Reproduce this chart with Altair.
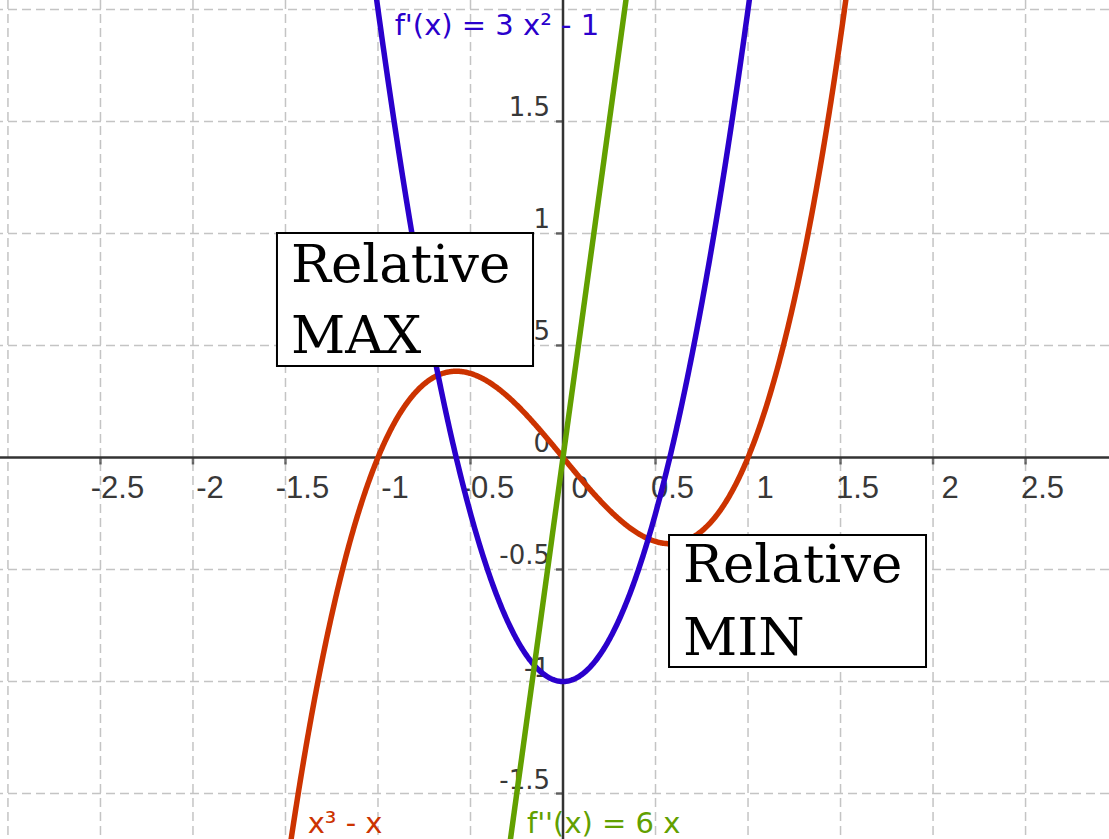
import altair as alt
import numpy as np
import pandas as pd

# f(x) = x^3 - x and its first two derivatives, as polynomial coefficients
f_coeffs = [1, 0, -1, 0]
fp_coeffs = [3, 0, -1]
fpp_coeffs = [6, 0]

curve_names = ["f", "fp", "fpp"]
curve_colors = ["#cc3300", "#2a00cc", "#62a000"]

# axis ticks and their labels
x_ticks = [-2.5, -2, -1.5, -1, -0.5, 0, 0.5, 1, 1.5, 2, 2.5]
x_tick_labels = ["-2.5", "-2", "-1.5", "-1", "-0.5", "0", "0.5", "1", "1.5", "2", "2.5"]
y_ticks = [-1.5, -1, -0.5, 0, 0.5, 1, 1.5]
y_tick_labels = ["-1.5", "-1", "-0.5", "0", "0.5", "1", "1.5"]

grid_x = [-3, -2.5, -2, -1.5, -1, -0.5, 0.5, 1, 1.5, 2, 2.5]
grid_y = [-1.5, -1, -0.5, 0.5, 1, 1.5, 2]

# function labels
fn_label_text = ["f'(x) = 3 x² - 1", "x³ - x", "f''(x) = 6 x"]
fn_label_x = [-0.91, -1.38, -0.195]
fn_label_y = [1.885, -1.676, -1.676]
fn_label_colors = [curve_colors[1], curve_colors[0], curve_colors[2]]

# annotation boxes around the turning points
box_x = [-1.546, 0.573]
box_x2 = [-0.162, 1.962]
box_y = [1.002, -0.346]
box_y2 = [0.408, -0.935]
box_text = ["Relative", "MAX", "Relative", "MIN"]
box_text_x = [-1.47, -1.47, 0.649, 0.649]
box_text_y = [0.783, 0.467, -0.556, -0.882]

X_DOMAIN = [-3.043, 2.951]
Y_DOMAIN = [-1.703, 2.042]
W, H = 1109, 839

xs = np.round(np.arange(-3.1, 3.0, 0.004), 4)
rows = []
for name, coeffs in zip(curve_names, [f_coeffs, fp_coeffs, fpp_coeffs]):
    ys = np.polyval(coeffs, xs)
    for xv, yv in zip(xs, ys):
        rows.append({"curve": name, "x": float(xv), "y": float(yv)})
curves = pd.DataFrame(rows)

xs_scale = alt.Scale(domain=X_DOMAIN, nice=False, zero=False)
ys_scale = alt.Scale(domain=Y_DOMAIN, nice=False, zero=False)
X = lambda f: alt.X(f, type="quantitative", scale=xs_scale, axis=None)
Y = lambda f: alt.Y(f, type="quantitative", scale=ys_scale, axis=None)

grid_color = "#c4c4c4"
axis_color = "#333333"
dash = [9, 5]

vgrid = alt.Chart(pd.DataFrame({"gx": grid_x})).mark_rule(
    color=grid_color, strokeWidth=1.5, strokeDash=dash
).encode(x=X("gx"))
hgrid = alt.Chart(pd.DataFrame({"gy": grid_y})).mark_rule(
    color=grid_color, strokeWidth=1.5, strokeDash=dash
).encode(y=Y("gy"))

x_axis = alt.Chart(pd.DataFrame({"v": [0]})).mark_rule(
    color=axis_color, strokeWidth=2.5
).encode(y=Y("v"))
y_axis = alt.Chart(pd.DataFrame({"v": [0]})).mark_rule(
    color=axis_color, strokeWidth=2.5
).encode(x=X("v"))

xt = pd.DataFrame({"t": x_ticks, "lab": x_tick_labels, "zero": 0.0})
yt = pd.DataFrame({"t": y_ticks, "lab": y_tick_labels, "zero": 0.0})

x_tick_marks = alt.Chart(xt).mark_tick(
    orient="vertical", size=7, thickness=2.5, color=axis_color, yOffset=3.5
).encode(x=X("t"), y=Y("zero"))
y_tick_marks = alt.Chart(yt).mark_tick(
    orient="horizontal", size=7, thickness=2.5, color=axis_color, xOffset=-3.5
).encode(x=X("zero"), y=Y("t"))

x_labels = alt.Chart(xt).mark_text(
    font="Liberation Sans", fontSize=31, color="#383838",
    align="center", baseline="alphabetic", dx=17, dy=41
).encode(x=X("t"), y=Y("zero"), text="lab:N")
y_labels = alt.Chart(yt).mark_text(
    font="DejaVu Sans", fontSize=26, color="#383838",
    align="right", baseline="alphabetic", dx=-13, dy=-5
).encode(x=X("zero"), y=Y("t"), text="lab:N")

lines = []
for name, color in zip(curve_names, curve_colors):
    lines.append(
        alt.Chart(curves[curves.curve == name]).mark_line(
            color=color, strokeWidth=5.5, clip=True
        ).encode(x=X("x"), y=Y("y"), order="x:Q")
    )

fn_labels = alt.Chart(pd.DataFrame({
    "x": fn_label_x, "y": fn_label_y, "t": fn_label_text, "c": fn_label_colors
})).mark_text(
    font="DejaVu Sans", fontSize=29, align="left", baseline="alphabetic"
).encode(x=X("x"), y=Y("y"), text="t:N", color=alt.Color("c:N", scale=None))

boxes = alt.Chart(pd.DataFrame({
    "x": box_x, "x2": box_x2, "y": box_y, "y2": box_y2
})).mark_rect(fill="white", stroke="black", strokeWidth=2).encode(
    x=X("x"), x2="x2", y=Y("y"), y2="y2"
)
box_labels = alt.Chart(pd.DataFrame({
    "x": box_text_x, "y": box_text_y, "t": box_text
})).mark_text(
    font="DejaVu Serif", fontSize=53, color="black", align="left", baseline="alphabetic"
).encode(x=X("x"), y=Y("y"), text="t:N")

chart = alt.layer(
    vgrid, hgrid, x_axis, y_axis, x_tick_marks, y_tick_marks,
    x_labels, y_labels, *lines, fn_labels, boxes, box_labels
).properties(
    width=W, height=H, padding=0, autosize=alt.AutoSizeParams(type="none"),
    background="white"
).configure_view(stroke=None)

chart.save("out.html", embed_options={"renderer": "svg", "actions": False})
